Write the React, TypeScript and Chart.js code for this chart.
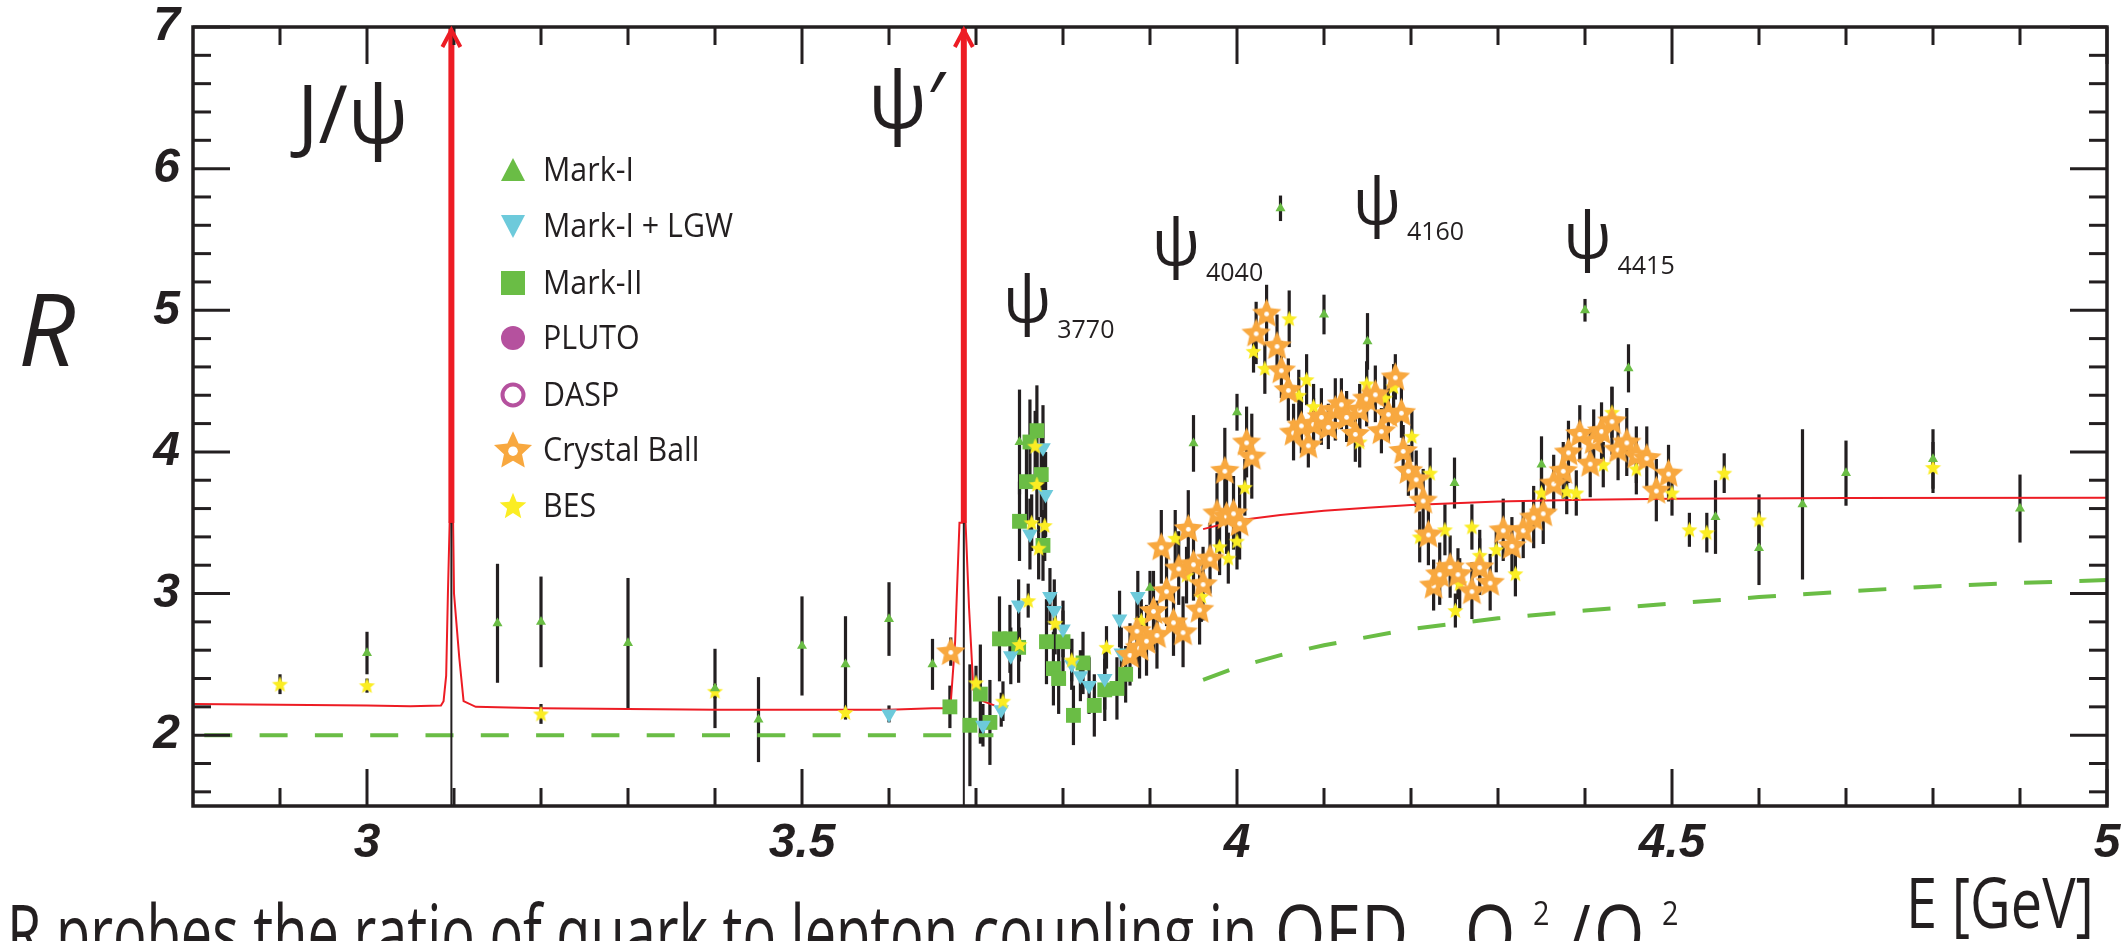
import { useEffect, useRef } from 'react';
import { Chart, registerables } from 'chart.js';

Chart.register(...registerables);

const W = 2127;
const H = 941;

const INK = '#231f20';
const RED = '#ed1c24';
const GREEN = '#6abd45';
const CYAN = '#6dcadb';
const PURPLE = '#b5519e';
const ORANGE = '#f8a83f';
const YELLOW = '#fbed23';

const SANS = '"Open Sans", "Noto Sans", sans-serif';
const TICK_FONT = '"Liberation Sans", Arial, sans-serif';

// ---- axes ----
const eTicks = [2.9, 3.0, 3.1, 3.2, 3.3, 3.4, 3.5, 3.6, 3.7, 3.8, 3.9, 4.0, 4.1, 4.2, 4.3, 4.4, 4.5, 4.6, 4.7, 4.8, 4.9, 5.0];
const eLabelled = [3, 3.5, 4, 4.5, 5];
const rTicks = [1.6, 1.8, 2.0, 2.2, 2.4, 2.6, 2.8, 3.0, 3.2, 3.4, 3.6, 3.8, 4.0, 4.2, 4.4, 4.6, 4.8, 5.0, 5.2, 5.4, 5.6, 5.8, 6.0, 6.2, 6.4, 6.6, 6.8, 7.0];
const rLabelled = [2, 3, 4, 5, 6, 7];

// ---- measurements: E [GeV], R, ±dR ----
const markI_E = [3.0, 3.15, 3.2, 3.3, 3.4, 3.45, 3.5, 3.55, 3.6, 3.65, 3.75, 3.9, 3.95, 4.0, 4.05, 4.1, 4.15, 4.25, 4.35, 4.4, 4.45, 4.55, 4.6, 4.65, 4.7, 4.8, 4.9];
const markI_R = [2.58, 2.79, 2.80, 2.65, 2.33, 2.11, 2.63, 2.50, 2.82, 2.50, 4.07, 3.04, 4.06, 4.28, 5.72, 4.97, 4.78, 3.78, 3.91, 5.00, 4.59, 3.54, 3.32, 3.63, 3.85, 3.95, 3.60];
const markI_dR = [0.15, 0.42, 0.32, 0.46, 0.28, 0.30, 0.35, 0.34, 0.26, 0.18, 0.37, 0.12, 0.20, 0.13, 0.09, 0.14, 0.20, 0.18, 0.20, 0.08, 0.17, 0.26, 0.26, 0.53, 0.23, 0.21, 0.24];

const lgw_E = [3.600, 3.708, 3.729, 3.740, 3.749, 3.762, 3.777, 3.780, 3.785, 3.790, 3.800, 3.810, 3.820, 3.830, 3.848, 3.865, 3.867, 3.886];
const lgw_R = [2.15, 2.07, 2.18, 2.56, 2.92, 3.42, 4.03, 3.70, 2.98, 2.88, 2.75, 2.50, 2.42, 2.35, 2.40, 2.82, 2.58, 2.98];
const lgw_dR = [0.06, 0.15, 0.12, 0.20, 0.18, 0.25, 0.30, 0.30, 0.20, 0.22, 0.20, 0.18, 0.18, 0.20, 0.22, 0.20, 0.18, 0.18];

const markII_E = [3.670, 3.693, 3.705, 3.716, 3.727, 3.739, 3.749, 3.750, 3.758, 3.762, 3.770, 3.775, 3.777, 3.781, 3.789, 3.795, 3.800, 3.812, 3.823, 3.836, 3.848, 3.862, 3.872];
const markII_R = [2.20, 2.07, 2.29, 2.09, 2.68, 2.68, 2.62, 3.51, 3.79, 4.07, 4.15, 3.84, 3.34, 2.66, 2.47, 2.40, 2.66, 2.14, 2.51, 2.21, 2.32, 2.33, 2.43];
const markII_dR = [0.15, 0.43, 0.35, 0.30, 0.30, 0.24, 0.25, 0.28, 0.30, 0.30, 0.32, 0.30, 0.25, 0.30, 0.26, 0.25, 0.22, 0.21, 0.22, 0.22, 0.22, 0.22, 0.20];

const pluto_E: number[] = [];
const pluto_R: number[] = [];
const dasp_E: number[] = [];
const dasp_R: number[] = [];

const cb_E = [3.671, 3.877, 3.885, 3.888, 3.896, 3.904, 3.908, 3.913, 3.919, 3.927, 3.933, 3.938, 3.944, 3.950, 3.957, 3.961, 3.969, 3.977, 3.986, 3.988, 3.996, 4.003, 4.011, 4.017, 4.022, 4.034, 4.046, 4.051, 4.059, 4.065, 4.074, 4.082, 4.088, 4.097, 4.105, 4.113, 4.120, 4.126, 4.136, 4.141, 4.149, 4.159, 4.166, 4.174, 4.182, 4.189, 4.191, 4.197, 4.206, 4.214, 4.220, 4.226, 4.233, 4.245, 4.254, 4.270, 4.279, 4.291, 4.306, 4.316, 4.329, 4.341, 4.352, 4.364, 4.375, 4.381, 4.394, 4.406, 4.410, 4.419, 4.431, 4.438, 4.448, 4.459, 4.471, 4.482, 4.496];
const cb_R = [2.59, 2.57, 2.74, 2.62, 2.67, 2.88, 2.71, 3.33, 3.02, 2.80, 3.18, 2.73, 3.46, 3.21, 2.89, 3.07, 3.25, 3.57, 3.87, 3.55, 3.57, 3.50, 4.07, 3.97, 4.84, 4.98, 4.75, 4.58, 4.44, 4.14, 4.19, 4.05, 4.20, 4.25, 4.18, 4.30, 4.34, 4.25, 4.13, 4.30, 4.38, 4.41, 4.15, 4.27, 4.53, 4.28, 4.01, 3.87, 3.81, 3.66, 3.42, 3.06, 3.14, 3.19, 3.14, 3.02, 3.19, 3.08, 3.45, 3.34, 3.45, 3.54, 3.57, 3.78, 3.87, 4.00, 4.13, 3.92, 4.08, 4.15, 4.22, 4.02, 4.07, 3.98, 3.96, 3.73, 3.85];
const cb_dR = [0.10, 0.22, 0.24, 0.22, 0.25, 0.28, 0.24, 0.26, 0.25, 0.24, 0.26, 0.25, 0.27, 0.26, 0.25, 0.26, 0.25, 0.28, 0.30, 0.27, 0.26, 0.26, 0.25, 0.30, 0.22, 0.20, 0.22, 0.20, 0.22, 0.20, 0.20, 0.16, 0.18, 0.20, 0.16, 0.22, 0.18, 0.18, 0.20, 0.18, 0.20, 0.20, 0.16, 0.20, 0.16, 0.18, 0.18, 0.18, 0.20, 0.22, 0.22, 0.18, 0.22, 0.22, 0.18, 0.20, 0.20, 0.20, 0.22, 0.20, 0.20, 0.22, 0.22, 0.20, 0.20, 0.22, 0.20, 0.24, 0.22, 0.20, 0.24, 0.22, 0.24, 0.20, 0.22, 0.22, 0.20];

const bes_E = [2.9, 3.0, 3.2, 3.4, 3.55, 3.700, 3.731, 3.750, 3.760, 3.764, 3.768, 3.770, 3.772, 3.779, 3.791, 3.810, 3.850, 3.890, 3.929, 3.942, 3.959, 3.980, 3.990, 4.000, 4.009, 4.019, 4.032, 4.060, 4.071, 4.080, 4.088, 4.141, 4.149, 4.170, 4.180, 4.201, 4.210, 4.222, 4.239, 4.251, 4.256, 4.270, 4.279, 4.298, 4.320, 4.350, 4.379, 4.390, 4.421, 4.431, 4.459, 4.500, 4.520, 4.540, 4.560, 4.600, 4.800];
const bes_R = [2.36, 2.35, 2.15, 2.31, 2.16, 2.37, 2.24, 2.64, 2.95, 3.50, 4.04, 3.77, 3.32, 3.48, 2.79, 2.53, 2.62, 2.81, 3.39, 3.13, 2.98, 3.33, 3.25, 3.37, 3.75, 4.71, 4.59, 4.94, 4.40, 4.51, 4.32, 4.07, 4.48, 4.38, 4.46, 4.11, 3.40, 3.85, 3.45, 2.88, 3.07, 3.47, 3.27, 3.31, 3.14, 3.71, 3.72, 3.71, 3.91, 4.28, 3.88, 3.71, 3.45, 3.43, 3.85, 3.52, 3.89];
const bes_dR = [0.07, 0.05, 0.07, 0.05, 0.05, 0.12, 0.14, 0.12, 0.12, 0.20, 0.25, 0.25, 0.22, 0.25, 0.22, 0.15, 0.15, 0.15, 0.20, 0.20, 0.18, 0.20, 0.18, 0.20, 0.20, 0.15, 0.18, 0.20, 0.18, 0.18, 0.16, 0.18, 0.16, 0.16, 0.16, 0.18, 0.18, 0.18, 0.18, 0.12, 0.18, 0.16, 0.18, 0.16, 0.16, 0.18, 0.16, 0.16, 0.16, 0.18, 0.18, 0.16, 0.12, 0.14, 0.14, 0.18, 0.18];

// ---- curves ----
// naive quark-model expectation (dashed)
const qedLow_E = [2.8, 3.72];
const qedLow_R = [2.0, 2.0];
const qedHigh_E = [3.961, 4.0, 4.05, 4.1, 4.2, 4.3, 4.4, 4.5, 4.6, 4.7, 4.8, 4.9, 5.0];
const qedHigh_R = [2.39, 2.48, 2.565, 2.635, 2.75, 2.825, 2.88, 2.93, 2.975, 3.015, 3.05, 3.075, 3.095];

// full fit including the narrow charmonium states (solid red)
const fitLow_E = [2.8, 2.9, 3.0, 3.05, 3.085, 3.088, 3.091, 3.093, 3.095, 3.099, 3.100, 3.106, 3.111, 3.125, 3.2, 3.3, 3.4, 3.5, 3.6, 3.65, 3.664, 3.671, 3.676, 3.681, 3.688, 3.692, 3.697, 3.708, 3.721];
const fitLow_R = [2.22, 2.215, 2.21, 2.205, 2.21, 2.24, 2.42, 3.0, 3.5, 3.5, 3.0, 2.55, 2.24, 2.20, 2.19, 2.185, 2.18, 2.18, 2.18, 2.19, 2.19, 2.23, 2.66, 3.5, 3.5, 2.9, 2.32, 2.24, 2.21];
const fitHigh_E = [3.961, 4.0, 4.05, 4.1, 4.15, 4.2, 4.3, 4.4, 4.5, 4.7, 5.0];
const fitHigh_R = [3.455, 3.515, 3.555, 3.585, 3.605, 3.625, 3.65, 3.662, 3.67, 3.674, 3.676];

// narrow resonances J/psi and psi(2S): peaks leave the frame
const resE = [3.097, 3.686];
const resCut = 3.5;
const resFloor = 1.5;
const resTop = 7.0;

// ---- text ----
const legendNames = ['Mark-I', 'Mark-I + LGW', 'Mark-II', 'PLUTO', 'DASP', 'Crystal Ball', 'BES'];
const peakNames = ['J/ψ', 'ψ′', 'ψ', 'ψ', 'ψ', 'ψ'];
const peakSubs = ['', '', '3770', '4040', '4160', '4415'];

// baseline anchor of each peak label (E, R) and glyph size
const peakAnchors = [
  { e: 2.9195, r: 6.181, size: 80 },
  { e: 3.576, r: 6.287, size: 78 },
  { e: 3.731, r: 4.917, size: 64 },
  { e: 3.902, r: 5.32, size: 64 },
  { e: 4.133, r: 5.609, size: 64 },
  { e: 4.375, r: 5.369, size: 64 },
];

const pts = (xs: number[], ys: number[]) => xs.map((x, i) => ({ x, y: ys[i] }));
const isOn = (v: number, list: number[]) => list.some((m) => Math.abs(m - v) < 1e-6);

function starCanvas(outer: number, inner: number, fill: string, hole: number) {
  const size = Math.ceil(outer * 2 + 4);
  const c = document.createElement('canvas');
  c.width = size;
  c.height = size;
  const g = c.getContext('2d')!;
  const cx = size / 2;
  const cy = size / 2 + outer * 0.06;
  g.beginPath();
  for (let k = 0; k < 10; k++) {
    const r = k % 2 === 0 ? outer : inner;
    const a = -Math.PI / 2 + (k * Math.PI) / 5;
    g.lineTo(cx + r * Math.cos(a), cy + r * Math.sin(a));
  }
  g.closePath();
  g.fillStyle = fill;
  g.fill();
  if (hole > 0) {
    g.beginPath();
    g.arc(cx, cy, hole, 0, Math.PI * 2);
    g.fillStyle = '#ffffff';
    g.fill();
  }
  return c;
}

// text drawn with a horizontal squeeze, to get a narrow humanist face
function squeezedText(ctx: CanvasRenderingContext2D, text: string, x: number, y: number, font: string, sx: number) {
  ctx.save();
  ctx.font = font;
  ctx.translate(x, y);
  ctx.scale(sx, 1);
  ctx.fillText(text, 0, 0);
  ctx.restore();
}

const errorBars = {
  id: 'errorBars',
  beforeDatasetsDraw(chart: any) {
    const { ctx, chartArea: a } = chart;
    const xs = chart.scales.x;
    const ys = chart.scales.y;
    ctx.save();
    ctx.beginPath();
    ctx.rect(a.left, a.top, a.right - a.left, a.bottom - a.top);
    ctx.clip();
    ctx.strokeStyle = INK;
    ctx.lineWidth = 3.2;
    chart.data.datasets.forEach((ds: any) => {
      const err = ds.yErr as number[] | undefined;
      if (!err) return;
      ds.data.forEach((p: any, i: number) => {
        const d = err[i];
        if (d === undefined) return;
        const px = xs.getPixelForValue(p.x);
        ctx.beginPath();
        ctx.moveTo(px, ys.getPixelForValue(p.y - d));
        ctx.lineTo(px, ys.getPixelForValue(p.y + d));
        ctx.stroke();
      });
    });
    ctx.restore();
  },
};

function makeDecor(legendStars: { cb: HTMLCanvasElement; bes: HTMLCanvasElement }) {
  return {
    id: 'decor',
    afterDatasetsDraw(chart: any) {
      const { ctx, chartArea: a } = chart;
      const xs = chart.scales.x;
      const ys = chart.scales.y;
      ctx.save();
      ctx.strokeStyle = INK;
      ctx.lineWidth = 3;
      ctx.lineCap = 'butt';
      const seg = (x1: number, y1: number, x2: number, y2: number) => {
        ctx.beginPath();
        ctx.moveTo(x1, y1);
        ctx.lineTo(x2, y2);
        ctx.stroke();
      };
      xs.ticks.forEach((t: any) => {
        const px = xs.getPixelForValue(t.value);
        const len = isOn(t.value, eLabelled) ? 37 : 18;
        seg(px, a.bottom, px, a.bottom - len);
        seg(px, a.top, px, a.top + len);
      });
      ys.ticks.forEach((t: any) => {
        const py = ys.getPixelForValue(t.value);
        const len = isOn(t.value, rLabelled) ? 37 : 18;
        seg(a.left, py, a.left + len, py);
        seg(a.right, py, a.right - len, py);
      });
      ctx.lineWidth = 3.5;
      ctx.strokeRect(a.left, a.top, a.right - a.left, a.bottom - a.top);

      // arrow heads on the narrow resonances
      ctx.strokeStyle = RED;
      ctx.lineWidth = 4;
      ctx.lineJoin = 'miter';
      resE.forEach((e) => {
        const px = xs.getPixelForValue(e);
        const py = ys.getPixelForValue(resTop);
        ctx.beginPath();
        ctx.moveTo(px - 9, py + 20);
        ctx.lineTo(px, py + 3);
        ctx.lineTo(px + 9, py + 20);
        ctx.stroke();
      });
      ctx.restore();
    },
    afterDraw(chart: any) {
      const { ctx } = chart;
      const xs = chart.scales.x;
      const ys = chart.scales.y;
      ctx.save();
      ctx.fillStyle = INK;
      ctx.textBaseline = 'alphabetic';
      ctx.textAlign = 'left';

      // peak labels
      peakAnchors.forEach((p, i) => {
        const px = xs.getPixelForValue(p.e);
        const py = ys.getPixelForValue(p.r);
        ctx.font = `${p.size}px ${SANS}`;
        ctx.fillText(peakNames[i], px, py);
        if (peakSubs[i]) {
          const w = ctx.measureText(peakNames[i]).width;
          ctx.font = `25px ${SANS}`;
          ctx.fillText(peakSubs[i], px + w + 6, py + 16);
        }
      });

      // legend
      const lx = 513;
      const tx = 543;
      const rows = [170, 226, 283, 338, 395, 450, 506];
      rows.forEach((ry, i) => {
        ctx.save();
        if (i === 0) {
          ctx.fillStyle = GREEN;
          ctx.beginPath();
          ctx.moveTo(lx, ry - 12);
          ctx.lineTo(lx + 12, ry + 11);
          ctx.lineTo(lx - 12, ry + 11);
          ctx.closePath();
          ctx.fill();
        } else if (i === 1) {
          ctx.fillStyle = CYAN;
          ctx.beginPath();
          ctx.moveTo(lx - 12, ry - 11);
          ctx.lineTo(lx + 12, ry - 11);
          ctx.lineTo(lx, ry + 12);
          ctx.closePath();
          ctx.fill();
        } else if (i === 2) {
          ctx.fillStyle = GREEN;
          ctx.fillRect(lx - 12, ry - 12, 24, 24);
        } else if (i === 3) {
          ctx.fillStyle = PURPLE;
          ctx.beginPath();
          ctx.arc(lx, ry, 12, 0, Math.PI * 2);
          ctx.fill();
        } else if (i === 4) {
          ctx.strokeStyle = PURPLE;
          ctx.lineWidth = 4;
          ctx.beginPath();
          ctx.arc(lx, ry, 10.5, 0, Math.PI * 2);
          ctx.stroke();
        } else if (i === 5) {
          const s = legendStars.cb;
          ctx.drawImage(s, lx - s.width / 2, ry - s.height / 2);
        } else {
          const s = legendStars.bes;
          ctx.drawImage(s, lx - s.width / 2, ry - s.height / 2);
        }
        ctx.restore();
        ctx.fillStyle = INK;
        squeezedText(ctx, legendNames[i], tx, ry + 11, `32px ${SANS}`, 0.95);
      });

      // axis titles
      ctx.font = `italic 100px ${SANS}`;
      ctx.fillText('R', 18, 366);
      squeezedText(ctx, 'E [GeV]', 1906, 928, `70px ${SANS}`, 0.8);

      // caption line along the lower edge
      const capFont = `76px ${SANS}`;
      const prefix = 'R probes the ratio of quark to lepton coupling in';
      ctx.font = capFont;
      const wPrefix = ctx.measureText(prefix).width;
      squeezedText(ctx, prefix, 7, 960, capFont, Math.min(0.85, 1250 / wPrefix));
      squeezedText(ctx, 'QED', 1275, 960, capFont, 0.85);
      squeezedText(ctx, 'Q', 1465, 960, capFont, 0.85);
      squeezedText(ctx, '/', 1567, 960, capFont, 0.85);
      squeezedText(ctx, 'Q', 1594, 960, capFont, 0.85);
      squeezedText(ctx, '2', 1533, 925, `32px ${SANS}`, 0.9);
      squeezedText(ctx, '2', 1662, 925, `32px ${SANS}`, 0.9);
      ctx.restore();
    },
  };
}

export default function App() {
  const ref = useRef<HTMLCanvasElement>(null);

  useEffect(() => {
    const canvas = ref.current;
    if (!canvas) return;

    const cbStar = starCanvas(15.5, 7.2, ORANGE, 2.4);
    const besStar = starCanvas(8.5, 3.8, YELLOW, 0);
    const legendStars = {
      cb: starCanvas(20, 9.5, ORANGE, 4.8),
      bes: starCanvas(14, 6.2, YELLOW, 0),
    };

    const line = (xs: number[], ys: number[], color: string, width: number, order: number, dash?: number[], dashOffset = 0) => ({
      data: pts(xs, ys),
      showLine: true,
      pointRadius: 0,
      borderColor: color,
      borderWidth: width,
      borderDash: dash || [],
      borderDashOffset: dashOffset,
      tension: 0,
      fill: false,
      order,
    });

    const datasets: any[] = [
      { label: legendNames[0], data: pts(markI_E, markI_R), yErr: markI_dR, pointStyle: 'triangle', pointRadius: 5.8, pointBackgroundColor: GREEN, pointBorderWidth: 0, order: 1 },
      { label: legendNames[5], data: pts(cb_E, cb_R), yErr: cb_dR, pointStyle: cbStar, pointRadius: 10, order: 2 },
      { label: legendNames[6], data: pts(bes_E, bes_R), yErr: bes_dR, pointStyle: besStar, pointRadius: 6, order: 3 },
      { label: legendNames[1], data: pts(lgw_E, lgw_R), yErr: lgw_dR, pointStyle: 'triangle', pointRotation: 180, pointRadius: 9, pointBackgroundColor: CYAN, pointBorderWidth: 0, order: 4 },
      { label: legendNames[2], data: pts(markII_E, markII_R), yErr: markII_dR, pointStyle: 'rect', pointRadius: 10.5, pointBackgroundColor: GREEN, pointBorderWidth: 0, order: 5 },
      { label: legendNames[3], data: pts(pluto_E, pluto_R), pointStyle: 'circle', pointRadius: 7, pointBackgroundColor: PURPLE, pointBorderWidth: 0, order: 6 },
      { label: legendNames[4], data: pts(dasp_E, dasp_R), pointStyle: 'circle', pointRadius: 6, pointBackgroundColor: 'rgba(0,0,0,0)', pointBorderColor: PURPLE, pointBorderWidth: 2.5, order: 7 },
      line(qedLow_E, qedLow_R, GREEN, 4, 30, [28, 27.3], 44),
      line(qedHigh_E, qedHigh_R, GREEN, 4, 30, [28, 27.3], 0),
      line(fitLow_E, fitLow_R, RED, 2, 29),
      line(fitHigh_E, fitHigh_R, RED, 2, 29),
      ...resE.map((e) => line([e, e], [resFloor, resCut], INK, 2, 28)),
      ...resE.map((e) => line([e, e], [resCut, resTop], RED, 6, 27)),
    ];

    const tickFont = { family: TICK_FONT, size: 48, weight: 'bold', style: 'italic' };

    const chart = new Chart(canvas, {
      type: 'scatter',
      data: { datasets },
      options: {
        animation: false,
        responsive: false,
        devicePixelRatio: 1,
        events: [],
        layout: { padding: { top: 27, right: 20, left: 0, bottom: 0 } },
        plugins: { legend: { display: false }, tooltip: { enabled: false } },
        scales: {
          x: {
            type: 'linear',
            min: 2.8,
            max: 5.0,
            grid: { display: false, drawTicks: false },
            border: { display: false },
            afterBuildTicks: (s: any) => {
              s.ticks = eTicks.map((value) => ({ value }));
            },
            afterFit: (s: any) => {
              s.height = 135;
              s.paddingLeft = 0;
              s.paddingRight = 0;
            },
            ticks: {
              autoSkip: false,
              maxRotation: 0,
              minRotation: 0,
              padding: 9,
              color: INK,
              font: tickFont,
              callback: (v: any) => (isOn(Number(v), eLabelled) ? String(Number(v)) : ''),
            },
          },
          y: {
            type: 'linear',
            min: 1.5,
            max: 7.0,
            grid: { display: false, drawTicks: false },
            border: { display: false },
            afterBuildTicks: (s: any) => {
              s.ticks = rTicks.map((value) => ({ value }));
            },
            afterFit: (s: any) => {
              s.width = 193;
              s.paddingTop = 0;
              s.paddingBottom = 0;
            },
            ticks: {
              autoSkip: false,
              padding: 13,
              color: INK,
              font: tickFont,
              callback: (v: any) => (isOn(Number(v), rLabelled) ? String(Math.round(Number(v))) : ''),
            },
          },
        },
      } as any,
      plugins: [errorBars, makeDecor(legendStars)],
    });

    return () => chart.destroy();
  }, []);

  return (
    <div style={{ position: 'absolute', left: 0, top: 0, width: W, height: H, background: '#ffffff', overflow: 'hidden' }}>
      <canvas ref={ref} width={W} height={H} style={{ display: 'block', width: W, height: H }} />
    </div>
  );
}
